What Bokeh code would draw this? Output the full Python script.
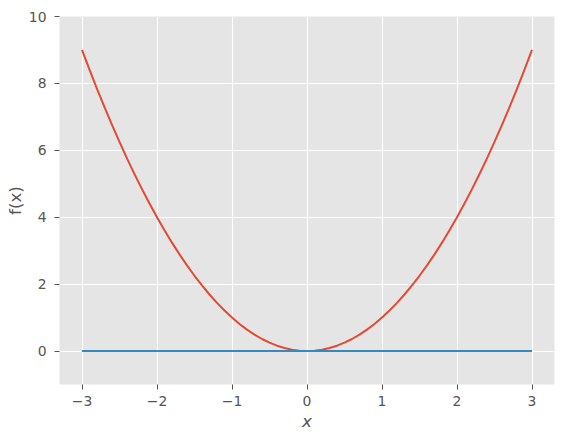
from bokeh.plotting import figure
from bokeh.models import Range1d, FixedTicker
from bokeh.embed import file_html
from bokeh.resources import INLINE

# Data
x_left = [-3.0, -2.9, -2.8, -2.7, -2.6, -2.5, -2.4, -2.3, -2.2, -2.1, -2.0,
          -1.9, -1.8, -1.7, -1.6, -1.5, -1.4, -1.3, -1.2, -1.1, -1.0,
          -0.9, -0.8, -0.7, -0.6, -0.5, -0.4, -0.3, -0.2, -0.1]
y_left = [9.0, 8.41, 7.84, 7.29, 6.76, 6.25, 5.76, 5.29, 4.84, 4.41, 4.0,
          3.61, 3.24, 2.89, 2.56, 2.25, 1.96, 1.69, 1.44, 1.21, 1.0,
          0.81, 0.64, 0.49, 0.36, 0.25, 0.16, 0.09, 0.04, 0.01]
x_mid = [0.0]
y_mid = [0.0]
x_right = [0.1, 0.2, 0.3, 0.4, 0.5, 0.6, 0.7, 0.8, 0.9, 1.0,
           1.1, 1.2, 1.3, 1.4, 1.5, 1.6, 1.7, 1.8, 1.9, 2.0,
           2.1, 2.2, 2.3, 2.4, 2.5, 2.6, 2.7, 2.8, 2.9, 3.0]
y_right = [0.01, 0.04, 0.09, 0.16, 0.25, 0.36, 0.49, 0.64, 0.81, 1.0,
           1.21, 1.44, 1.69, 1.96, 2.25, 2.56, 2.89, 3.24, 3.61, 4.0,
           4.41, 4.84, 5.29, 5.76, 6.25, 6.76, 7.29, 7.84, 8.41, 9.0]
x_zero = [-3.0, 3.0]
y_zero = [0.0, 0.0]
x_ticks = [-3, -2, -1, 0, 1, 2, 3]
y_ticks = [0, 2, 4, 6, 8, 10]

x_curve = x_left + x_mid + x_right
y_curve = y_left + y_mid + y_right

p = figure(output_backend="svg", toolbar_location=None,
           frame_width=495, frame_height=368,
           min_border_left=59, min_border_right=10, min_border_top=16, min_border_bottom=55,
           x_range=Range1d(-3.3, 3.3), y_range=Range1d(-1, 10))

p.background_fill_color = "#E5E5E5"
p.border_fill_color = "white"
p.outline_line_color = None

p.line(x_curve, y_curve, line_color="#E24A33", line_width=2, line_join="round")
p.line(x_zero, y_zero, line_color="#348ABD", line_width=2)

p.xaxis.ticker = FixedTicker(ticks=x_ticks)
p.yaxis.ticker = FixedTicker(ticks=y_ticks)
p.xaxis.major_label_overrides = {t: ("\u2212" + str(-t) if t < 0 else str(t)) for t in x_ticks}

for ax in (p.xaxis, p.yaxis):
    ax.axis_line_color = None
    ax.major_tick_line_color = "#555555"
    ax.major_tick_line_width = 1
    ax.major_tick_out = 5
    ax.major_tick_in = 0
    ax.minor_tick_line_color = None
    ax.major_label_text_font = "DejaVu Sans"
    ax.major_label_text_font_size = "13.9px"
    ax.major_label_text_color = "#555555"
    ax.axis_label_text_font = "DejaVu Sans"
    ax.axis_label_text_font_size = "16.7px"
    ax.axis_label_text_color = "#555555"

p.xaxis.axis_label = "x"
p.xaxis.axis_label_text_font_style = "italic"
p.yaxis.axis_label = "f(x)"
p.yaxis.axis_label_text_font_style = "normal"
p.xaxis.major_label_standoff = 6
p.yaxis.major_label_standoff = 8
p.xaxis.axis_label_standoff = 2
p.yaxis.axis_label_standoff = 1

p.grid.grid_line_color = "white"
p.grid.grid_line_width = 1.1

open("out.html", "w").write(file_html(p, INLINE))
